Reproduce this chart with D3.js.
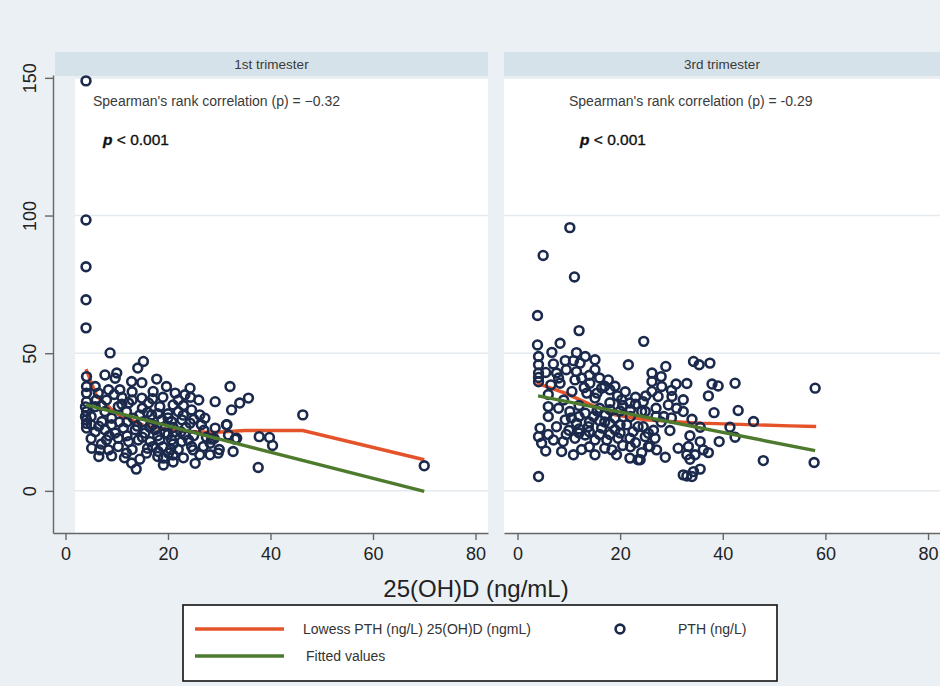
<!DOCTYPE html>
<html>
<head>
<meta charset="utf-8">
<script src="https://cdn.jsdelivr.net/npm/d3@7"></script>
<style>
  body { margin: 0; background: #eaf0f4; }
  svg { display: block; font-family: "Liberation Sans", Arial, sans-serif; }
</style>
</head>
<body>
<svg id="chart"></svg>
<script>
let width = 940;
let height = 686;

const xTicks = [0, 20, 40, 60, 80];
const yTicks = [0, 50, 100, 150];
const panelTitles = ["1st trimester", "3rd trimester"];
const rhoLabels = [
  "Spearman's rank correlation (p) = \u22120.32",
  "Spearman's rank correlation (p) = -0.29",
];
const legendLabels = ["Lowess PTH (ng/L) 25(OH)D (ngmL)", "PTH (ng/L)", "Fitted values"];

// 1st trimester: [25(OH)D, PTH]
const t1Points = [
  [4, 148.9], [4, 98.4], [4, 81.4], [4, 69.4], [4, 59.2],
  [8.7, 50.1], [15.2, 47], [14.1, 44.6], [4.1, 41.5], [7.7, 42.1], [10, 42.8], [9.7, 40.9],
  [12.9, 39.7], [14.9, 39.3], [17.8, 40.6], [19.7, 37.9], [21.4, 35.5], [24.3, 37.3],
  [23.3, 34.9], [24.4, 34], [32.1, 37.9], [35.7, 33.7], [34, 31.9], [32.4, 29.4], [29.2, 32.4],
  [4.1, 37.9], [4.1, 35.5], [5.8, 37.9], [6.4, 35.5], [8.4, 36.7], [10.6, 36.7], [12.3, 31.9],
  [14.9, 33.7], [17.1, 36.1], [16.2, 31.9], [18.4, 30.6], [21, 31.2], [22, 28.8], [24.6, 29.4],
  [26.2, 27.6], [27.2, 26.4], [4.1, 32.4], [4.1, 28.8], [4.1, 25.8], [4.1, 22.8], [5.8, 30.6],
  [7.7, 28.8], [7.1, 25.2], [9, 26.4], [10.3, 30.6], [11.9, 28.8], [13.2, 26.4], [14.5, 27.6],
  [16.8, 27.6], [18.8, 25.8], [20.7, 25.2], [22.7, 25.8], [24.3, 24.6], [29.2, 22.8], [31.5, 24],
  [31.8, 20.3], [33.4, 19.1], [23.3, 20.3], [21.4, 21.5], [19.4, 21], [17.5, 22.2], [15.5, 21],
  [13.6, 22.2], [11.3, 22.8], [9.7, 21], [7.7, 22.2], [5.8, 21.5], [5.1, 15.5], [6.7, 14.9],
  [8.4, 14.9], [10.3, 16.1], [8, 18.5], [10.3, 19.1], [12.3, 17.9], [14.2, 18.5], [16.5, 17.9],
  [18.4, 18.5], [20.7, 18.5], [22.7, 17.9], [24.6, 16.1], [26.9, 16.1], [28.2, 17.3],
  [11.9, 13.7], [15.8, 13.7], [18.1, 14.3], [20.1, 13.7], [24.9, 14.9], [26.2, 13.1], [28.2, 13.1],
  [29.8, 13.7], [12.9, 10.1], [19.1, 9.4], [19.1, 11.9], [46.3, 27.6], [37.8, 19.7], [39.8, 19.4],
  [40.4, 16.5], [37.6, 8.5], [70, 9.1], [32.7, 14.3], [33.1, 18.8], [13.8, 7.9], [9, 12.7],
  [25.3, 10], [28.5, 18.8], [31.4, 24], [4.1, 24.5], [6, 33], [8, 33], [11, 34], [13, 36],
  [19, 34], [20, 28], [23, 31], [26, 33], [17, 24], [21, 23], [19, 16], [22, 15], [17, 16],
  [13, 15], [7, 17], [12, 25], [15, 25], [27, 22], [25, 20], [29, 19], [30, 15], [16, 28.5],
  [5, 27], [9, 24], [23, 27.5], [20, 20.5], [18, 12.5], [21, 10.5],
  [5, 19], [6.5, 23.5], [8.5, 20], [10.5, 25], [12, 20], [14, 23.5], [15, 19.5], [16.5, 23],
  [18, 20], [19.5, 23.5], [21, 17], [22.5, 21.5], [23.5, 23], [20, 26.5], [18, 28], [15, 30],
  [13, 33], [11, 31.5], [7, 31], [9.5, 35], [17, 33.5], [22, 33], [25, 26], [26.5, 24],
  [27.5, 19.5], [24, 18.5], [20.5, 15], [16, 15.5], [11.5, 12], [14.5, 11.5], [6.5, 12.5],
  [5, 24], [3.9, 30.5], [3.9, 27], [23, 12], [21, 13],
];

// 3rd trimester: [25(OH)D, PTH]
const t3Points = [
  [10.2, 95.6], [5, 85.5], [11.1, 77.7], [3.9, 63.7], [12, 58.2], [3.9, 53], [8.3, 53.6],
  [24.6, 54.3], [6.7, 50.3], [11.5, 50.2], [4.1, 48.8], [4.1, 45.8], [7, 46.1], [9.3, 47.3],
  [10.9, 47.3], [12.2, 46.4], [13.2, 48.8], [15.1, 47.6], [21.6, 45.8], [4.1, 42.8], [7.6, 42.8],
  [11.5, 43.3], [15.1, 44], [4.1, 41.2], [4.1, 39.6], [8.3, 39.1], [11.2, 40.3], [14.1, 39.1],
  [17.7, 40.3], [16.4, 37.3], [18, 36.7], [13.5, 35.5], [10.6, 36.1], [15.1, 33.7], [20.3, 33.1],
  [21.9, 31.9], [24.2, 28.8], [6, 30.6], [8, 30], [10.2, 28.8], [13.2, 28.2], [14.8, 27],
  [17.1, 27.6], [19, 26.4], [6, 27], [9.3, 25.8], [11.5, 24.6], [13.8, 23.3], [16.4, 22.8],
  [19, 22.2], [21.3, 24], [23.5, 23.3], [4.4, 22.8], [7.6, 23.3], [4.1, 19.7], [4.7, 17.3],
  [7, 18.5], [8.9, 17.9], [11.2, 19.1], [13.2, 20.3], [15.1, 18.5], [17.4, 18.5], [19.6, 19.1],
  [21.9, 19.1], [24.9, 19.7], [8.6, 14.3], [10.9, 13.1], [15.1, 13.1], [18.4, 14.9], [19.3, 13.1],
  [21.9, 11.9], [23.5, 11.3], [4.1, 5.2], [25.5, 16.1], [24.2, 13.9], [26.2, 42.8], [28.9, 45.2],
  [34.3, 47], [35.4, 45.8], [37.5, 46.4], [30.9, 38.8], [37.9, 38.8], [39.1, 38.1], [42.4, 39.1],
  [58, 37.3], [28.1, 37.9], [26.2, 36.1], [27.4, 34.3], [30.1, 34.3], [32.3, 33.1], [37.2, 34.5],
  [29.4, 31.2], [31, 30], [32.3, 28.8], [38.3, 28.4], [43, 29.2], [34, 26], [46, 25.2],
  [41.4, 23.1], [35.6, 23.1], [29.7, 21.9], [33.6, 20], [42.4, 19.5], [39.3, 17.9], [35.6, 17.9],
  [31.3, 15.5], [33.3, 16.1], [36.2, 14.9], [37.2, 13.9], [33, 13.1], [34.6, 13.1], [28.8, 12.2],
  [33.6, 11.5], [47.9, 11], [57.8, 10.3], [35.6, 7.9], [33, 5.4], [34, 5.2], [34.3, 7],
  [23.9, 11.3], [25.8, 16.1], [27.1, 14.9], [26.8, 19.1], [25.5, 20.9], [24.5, 23.3], [24.9, 28.8],
  [24.5, 32.4], [26.2, 39.7], [32.3, 5.8], [16, 30], [18, 32], [20, 29], [22, 27], [12, 31],
  [17, 25], [20, 21], [14, 16], [22, 16], [12, 21], [10, 22], [27, 27], [28, 25], [6, 35],
  [9, 33], [14, 42], [16, 41], [19, 38], [21, 36], [23, 34],
  [5.5, 43], [6.5, 38.5], [8, 41], [9.5, 44], [12.5, 41], [13, 37.5], [15.5, 35.5], [17, 38],
  [19.5, 34.5], [22, 29.5], [23, 31.5], [20.5, 31], [18, 29.5], [15.5, 29], [12, 27], [10.5, 26.5],
  [14, 25], [16, 25.5], [18, 24.5], [20, 24], [22.5, 21.5], [18, 20.5], [16, 20.5], [14, 21.5],
  [12, 22.5], [9.5, 20.5], [6, 20.5], [5.5, 14.5], [12.5, 15], [17, 15.5], [20.5, 16.5], [23, 17.5],
  [26.5, 22], [28.5, 27], [30, 26.5], [27, 30], [30, 36.5], [33, 39], [28, 41.5], [25, 34.5],
];

const t1Lowess = [[4, 44.2], [6.1, 34.3], [10, 28], [15.8, 23.4], [22, 21.8], [28.8, 21.2], [35, 21.9], [46.3, 21.9], [70, 11.3]];
const t3Lowess = [[3.7, 39.1], [9.3, 35.5], [14, 31.5], [19, 27.6], [24.9, 25.8], [35.6, 24.6], [53.1, 23.6], [58.2, 23.4]];
const t1Fit = [[4, 31.2], [70, -0.2]];
const t3Fit = [[4, 34.5], [58, 14.6]];

const colors = { bg: "#eaf0f4", strip: "#d6e2ea", grid: "#e4eaee", axis: "#666", dot: "#1b2a4c", lowess: "#e4532a", fit: "#4e7a2e" };

let svg = d3.select("#chart").attr("width", width).attr("height", height);

svg.append("rect").attr("width", width).attr("height", height).attr("fill", colors.bg);

let yScale = d3.scaleLinear().domain([-15.3, 151]).range([533, 75.1]);

const panels = [
  { x: d3.scaleLinear().domain([-2.44, 82.44]).range([53, 488]), plotLeft: 75, stripLeft: 55, points: t1Points, lowess: t1Lowess, fit: t1Fit, textX: 93, pX: 103 },
  { x: d3.scaleLinear().domain([-2.63, 82.33]).range([504, 940]), plotLeft: 504, stripLeft: 504, points: t3Points, lowess: t3Lowess, fit: t3Fit, textX: 569, pX: 580 },
];

const drawPanel = (p, i) => {
  let right = p.x.range()[1];
  let g = svg.append("g");

  // header strip
  g.append("rect")
    .attr("x", p.stripLeft).attr("y", 52)
    .attr("width", right - p.stripLeft).attr("height", 24)
    .attr("fill", colors.strip);
  g.append("text")
    .attr("x", (p.stripLeft + right) / 2).attr("y", 69)
    .attr("text-anchor", "middle")
    .attr("font-size", 13.5).attr("fill", "#3a3a3a")
    .text(panelTitles[i]);

  // plot region
  g.append("rect")
    .attr("x", p.plotLeft).attr("y", 77)
    .attr("width", right - p.plotLeft).attr("height", 533 - 77)
    .attr("fill", "#fff");

  g.selectAll(".grid")
    .data(yTicks)
    .enter()
    .append("line")
    .attr("x1", p.plotLeft).attr("x2", right)
    .attr("y1", (d) => yScale(d)).attr("y2", (d) => yScale(d))
    .attr("stroke", colors.grid).attr("stroke-width", 1.5);

  let line = d3.line().x((d) => p.x(d[0])).y((d) => yScale(d[1]));

  g.append("path")
    .datum(p.lowess)
    .attr("d", line)
    .attr("fill", "none").attr("stroke", colors.lowess).attr("stroke-width", 3.4);

  g.selectAll("circle")
    .data(p.points)
    .enter()
    .append("circle")
    .attr("cx", (d) => p.x(d[0]))
    .attr("cy", (d) => yScale(d[1]))
    .attr("r", 4.4)
    .attr("fill", "none").attr("stroke", colors.dot).attr("stroke-width", 2.6);

  g.append("path")
    .datum(p.fit)
    .attr("d", line)
    .attr("fill", "none").attr("stroke", colors.fit).attr("stroke-width", 3.4);

  // annotations
  g.append("text")
    .attr("x", p.textX).attr("y", 106)
    .attr("font-size", 14).attr("fill", "#3a3a3a")
    .text(rhoLabels[i]);
  let pt = g.append("text")
    .attr("x", p.pX).attr("y", 145)
    .attr("font-size", 15.5).attr("fill", "#111")
    .attr("stroke", "#111").attr("stroke-width", 0.35);
  pt.append("tspan").attr("font-style", "italic").attr("font-weight", "bold").text("p");
  pt.append("tspan").text(" < 0.001");

  // x axis
  let xAxis = d3.axisBottom(p.x).tickValues(xTicks).tickSize(7).tickPadding(7).tickSizeOuter(0);
  let ax = svg.append("g")
    .attr("transform", "translate(0, 533)")
    .call(xAxis);
  ax.select(".domain").attr("stroke", colors.axis).attr("stroke-width", 1.4);
  ax.selectAll(".tick line").attr("stroke", colors.axis).attr("stroke-width", 1.4);
  ax.selectAll("text").attr("font-size", 18).attr("fill", "#222").attr("font-family", "Liberation Sans, Arial, sans-serif");
};

panels.forEach(drawPanel);

// y axis on the first panel
let yAxis = d3.axisLeft(yScale).tickValues(yTicks).tickSize(8).tickSizeOuter(0);
let ay = svg.append("g")
  .attr("transform", "translate(53, 0)")
  .call(yAxis);
ay.select(".domain").attr("stroke", colors.axis).attr("stroke-width", 1.4);
ay.selectAll(".tick line").attr("stroke", colors.axis).attr("stroke-width", 1.4);
ay.selectAll("text")
  .attr("x", 0).attr("y", -17.5).attr("dy", 0)
  .attr("transform", "rotate(-90)")
  .attr("text-anchor", "middle")
  .attr("font-size", 18).attr("fill", "#222")
  .attr("font-family", "Liberation Sans, Arial, sans-serif");

svg.append("text")
  .attr("x", 476).attr("y", 597)
  .attr("text-anchor", "middle")
  .attr("font-size", 24).attr("fill", "#222")
  .text("25(OH)D (ng/mL)");

// legend
let lg = svg.append("g");
lg.append("rect")
  .attr("x", 183).attr("y", 605).attr("width", 594).attr("height", 76)
  .attr("fill", "#fff").attr("stroke", "#111").attr("stroke-width", 1.6);
lg.append("line")
  .attr("x1", 195).attr("x2", 284).attr("y1", 629).attr("y2", 629)
  .attr("stroke", colors.lowess).attr("stroke-width", 3.6);
lg.append("line")
  .attr("x1", 195).attr("x2", 284).attr("y1", 656).attr("y2", 656)
  .attr("stroke", colors.fit).attr("stroke-width", 3.6);
lg.append("circle")
  .attr("cx", 620).attr("cy", 629).attr("r", 4.4)
  .attr("fill", "none").attr("stroke", colors.dot).attr("stroke-width", 2.6);
lg.append("text").attr("x", 303).attr("y", 634).attr("font-size", 14).attr("fill", "#333").text(legendLabels[0]);
lg.append("text").attr("x", 678).attr("y", 634).attr("font-size", 14).attr("fill", "#333").text(legendLabels[1]);
lg.append("text").attr("x", 306).attr("y", 661).attr("font-size", 14).attr("fill", "#333").text(legendLabels[2]);
</script>
</body>
</html>
